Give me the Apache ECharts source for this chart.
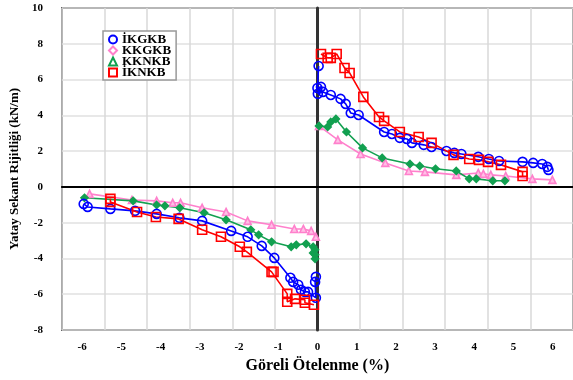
<!DOCTYPE html>
<html><head><meta charset="utf-8">
<script src="https://cdn.jsdelivr.net/npm/echarts@6/dist/echarts.min.js"></script>
<style>html,body{margin:0;padding:0;background:#fff}#c{width:573px;height:380px}</style>
</head><body><div id="c"></div>
<script>
const xTickLabels = [-6,-5,-4,-3,-2,-1,0,1,2,3,4,5,6];
const seriesNames = ['İKGKB','KKGKB','KKNKB','İKNKB'];
const ikgkbNeg = [[-5.96,-0.95],[-5.86,-1.12],[-5.28,-1.23],[-4.65,-1.34],[-4.10,-1.51],[-3.52,-1.73],[-2.94,-1.90],[-2.20,-2.46],[-1.78,-2.79],[-1.42,-3.30],[-1.10,-3.97],[-0.69,-5.08],[-0.62,-5.31],[-0.49,-5.47],[-0.42,-5.75],[-0.32,-5.87],[-0.24,-5.87],[-0.04,-6.20],[-0.06,-5.31],[-0.04,-5.03]];
const ikgkbPos = [[0.03,6.76],[0.00,5.53],[0.09,5.59],[0.01,5.20],[0.14,5.31],[0.34,5.14],[0.59,4.92],[0.72,4.64],[0.85,4.13],[1.05,4.02],[1.70,3.07],[1.90,2.96],[2.10,2.74],[2.28,2.68],[2.41,2.46],[2.71,2.35],[2.91,2.23],[3.29,2.01],[3.49,1.90],[3.67,1.84],[4.10,1.68],[4.37,1.56],[4.63,1.45],[5.23,1.40],[5.50,1.34],[5.73,1.28],[5.86,1.12],[5.89,0.95]];
const kkgkbNeg = [[-5.81,-0.39],[-4.73,-0.73],[-4.10,-0.78],[-3.69,-0.89],[-3.49,-0.89],[-2.94,-1.17],[-2.33,-1.40],[-1.78,-1.90],[-1.17,-2.12],[-0.59,-2.35],[-0.36,-2.35],[-0.16,-2.46],[-0.04,-2.79]];
const kkgkbPos = [[0.04,3.41],[0.52,2.63],[1.10,1.84],[1.73,1.34],[2.33,0.89],[2.74,0.84],[3.54,0.67],[4.10,0.78],[4.23,0.73],[4.42,0.67],[4.80,0.61],[5.48,0.45],[5.99,0.39]];
const kknkbNeg = [[-5.94,-0.61],[-4.70,-0.78],[-4.10,-1.01],[-3.89,-1.06],[-3.51,-1.17],[-2.89,-1.45],[-2.33,-1.84],[-1.70,-2.40],[-1.50,-2.68],[-1.17,-3.07],[-0.67,-3.35],[-0.54,-3.24],[-0.29,-3.18],[-0.11,-3.35],[-0.06,-3.52],[-0.11,-3.69],[-0.06,-3.80],[-0.06,-4.02]];
const kknkbPos = [[0.04,3.41],[0.26,3.35],[0.34,3.63],[0.47,3.80],[0.74,3.07],[1.15,2.18],[1.65,1.62],[2.36,1.28],[2.61,1.17],[3.01,1.01],[3.54,0.89],[3.87,0.45],[4.05,0.45],[4.47,0.34],[4.78,0.34]];
const iknkbNeg = [[-5.28,-0.67],[-5.28,-0.84],[-4.60,-1.40],[-4.12,-1.68],[-3.54,-1.79],[-2.94,-2.40],[-2.46,-2.79],[-1.98,-3.35],[-1.80,-3.63],[-1.17,-4.75],[-1.12,-4.75],[-0.77,-5.98],[-0.77,-6.42],[-0.57,-6.26],[-0.32,-6.31],[-0.32,-6.48],[-0.09,-6.59]];
const iknkbPos = [[0.09,7.43],[0.26,7.21],[0.34,7.21],[0.49,7.43],[0.69,6.65],[0.82,6.37],[1.17,5.03],[1.57,3.91],[1.70,3.69],[2.10,3.07],[2.58,2.79],[2.91,2.46],[3.47,1.79],[3.87,1.56],[4.12,1.51],[4.35,1.40],[4.68,1.23],[5.23,0.84],[5.23,0.61]];

const FONT = '"Liberation Serif","Times New Roman",serif';
const BLUE='#0000ff', PINK='#ff80cc', GREEN='#12a050', RED='#ff0000';

function mk(name, data, color, symbol, size, fill) {
  return {
    type:'line', name, data, xAxisIndex:0, yAxisIndex:0,
    symbol, symbolSize:size, showSymbol:true,
    lineStyle:{color, width:1.6},
    itemStyle:{color: fill, borderColor:color, borderWidth:1.6},
    emphasis:{disabled:true}, animation:false
  };
}

const chart = echarts.init(document.getElementById('c'), null, {renderer:'canvas'});
chart.setOption({
  animation:false,
  backgroundColor:'#fff',
  grid:{left:61, right:-5, top:8, bottom:50, show:true, borderColor:'#000', borderWidth:1.5, backgroundColor:'transparent'},
  legend:{
    orient:'vertical', left:103, top:31, padding:[2,5,1,5],
    borderColor:'#999', borderWidth:1.5, backgroundColor:'#fff',
    itemWidth:8, itemHeight:8, itemGap:-2,
    textStyle:{fontFamily:FONT, fontWeight:'bold', fontSize:13, color:'#000'},
    data:[
      {name:seriesNames[0], icon:'circle', itemStyle:{color:'#fff', borderColor:BLUE, borderWidth:2}},
      {name:seriesNames[1], icon:'diamond', itemStyle:{color:'#fff', borderColor:PINK, borderWidth:2}},
      {name:seriesNames[2], icon:'triangle', itemStyle:{color:'#fff', borderColor:GREEN, borderWidth:2}},
      {name:seriesNames[3], icon:'rect', itemStyle:{color:'#fff', borderColor:RED, borderWidth:2}}
    ]
  },
  xAxis:[
    {type:'value', min:-6.516, max:6.516, position:'bottom',
     axisLine:{show:false}, axisTick:{show:false}, splitLine:{show:false},
     axisLabel:{customValues:xTickLabels, fontFamily:FONT, fontWeight:'bold', fontSize:11, color:'#000', margin:12},
     name:'Göreli Ötelenme (%)', nameLocation:'middle', nameGap:27,
     nameTextStyle:{fontFamily:FONT, fontWeight:'bold', fontSize:16, color:'#000'}},
    {type:'value', min:-6, max:6, interval:1, position:'bottom',
     axisLine:{show:true, onZero:true, lineStyle:{color:'#000', width:2}},
     axisTick:{show:false}, axisLabel:{show:false},
     splitLine:{show:true, lineStyle:{color:'#d8d8d8', width:1.5}}}
  ],
  yAxis:[
    {type:'value', min:-8, max:10, interval:2, position:'left',
     axisLine:{show:false}, axisTick:{show:false},
     splitLine:{show:true, lineStyle:{color:'#e0e0e0', width:1.5}},
     axisLabel:{fontFamily:FONT, fontWeight:'bold', fontSize:11, color:'#000', margin:19},
     name:'Yatay Sekant Rijitliği (kN/m)', nameLocation:'middle', nameGap:38,
     nameTextStyle:{fontFamily:FONT, fontWeight:'bold', fontSize:13, color:'#000'}},
    {type:'value', min:-8, max:10, interval:2,
     axisLine:{show:true, onZero:true, onZeroAxisIndex:0, lineStyle:{color:'#333', width:3}},
     axisTick:{show:false}, axisLabel:{show:false}, splitLine:{show:false}}
  ],
  series:[
    mk(seriesNames[1], kkgkbNeg, PINK, 'triangle', 7, '#ffc0e6'),
    mk(seriesNames[1], kkgkbPos, PINK, 'triangle', 7, '#ffc0e6'),
    mk(seriesNames[2], kknkbNeg, GREEN, 'diamond', 7, GREEN),
    mk(seriesNames[2], kknkbPos, GREEN, 'diamond', 7, GREEN),
    mk(seriesNames[0], ikgkbNeg, BLUE, 'circle', 9, 'rgba(255,255,255,0)'),
    mk(seriesNames[0], ikgkbPos, BLUE, 'circle', 9, 'rgba(255,255,255,0)'),
    mk(seriesNames[3], iknkbNeg, RED, 'rect', 9, 'rgba(255,255,255,0)'),
    mk(seriesNames[3], iknkbPos, RED, 'rect', 9, 'rgba(255,255,255,0)')
  ]
});
</script></body></html>
